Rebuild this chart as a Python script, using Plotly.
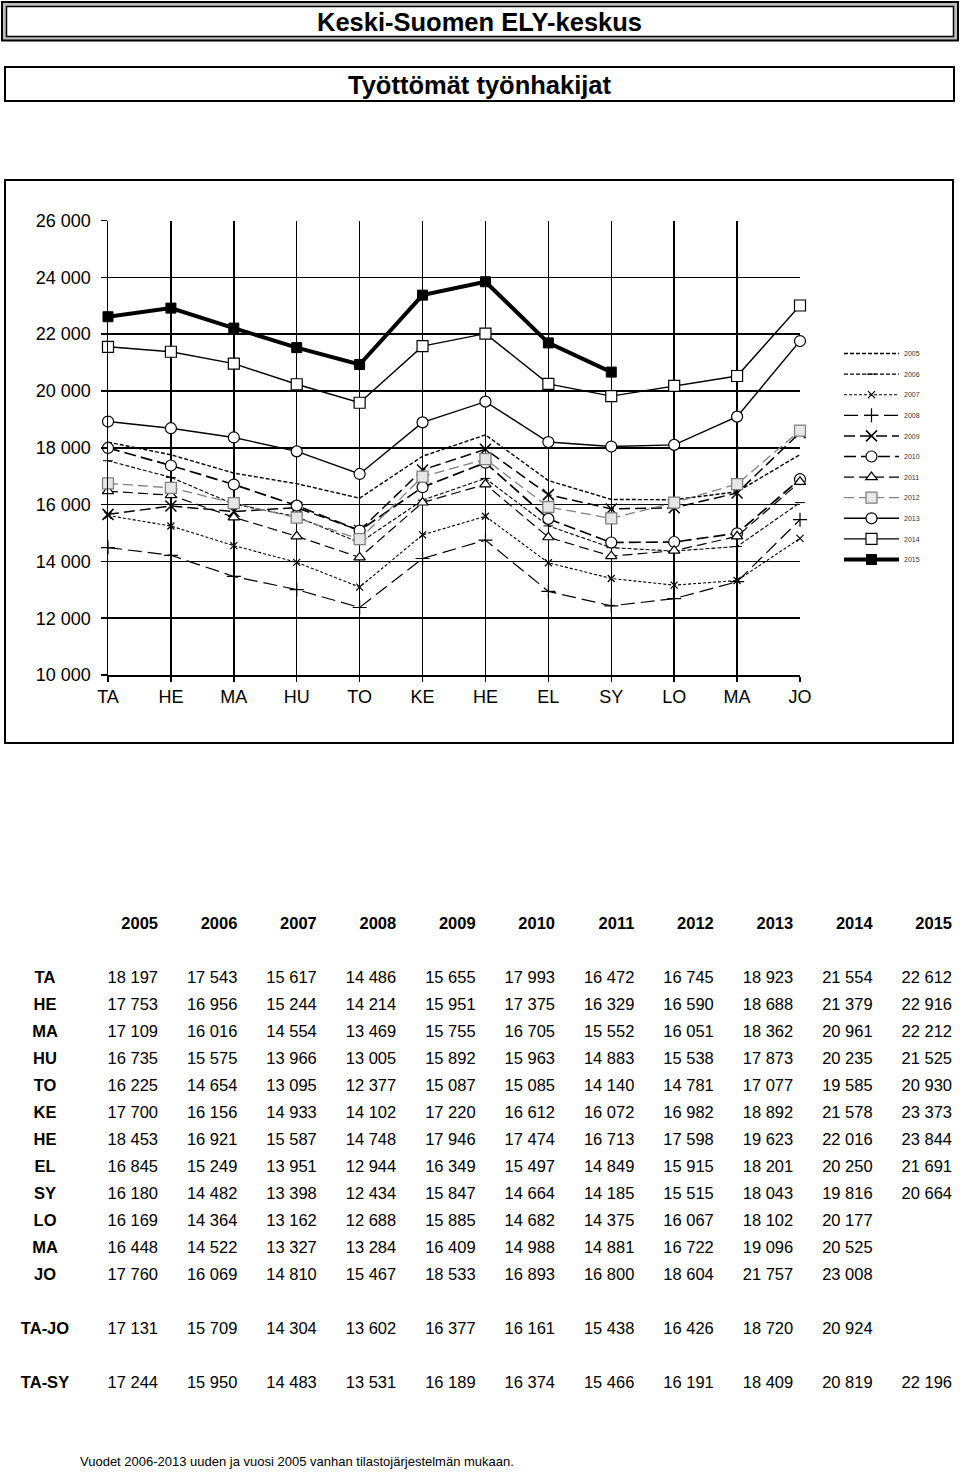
import plotly.graph_objects as go

W, H = 960, 1473

months = ["TA", "HE", "MA", "HU", "TO", "KE", "HE", "EL", "SY", "LO", "MA", "JO"]
years = [2005, 2006, 2007, 2008, 2009, 2010, 2011, 2012, 2013, 2014, 2015]

v2005 = [18197, 17753, 17109, 16735, 16225, 17700, 18453, 16845, 16180, 16169, 16448, 17760]
v2006 = [17543, 16956, 16016, 15575, 14654, 16156, 16921, 15249, 14482, 14364, 14522, 16069]
v2007 = [15617, 15244, 14554, 13966, 13095, 14933, 15587, 13951, 13398, 13162, 13327, 14810]
v2008 = [14486, 14214, 13469, 13005, 12377, 14102, 14748, 12944, 12434, 12688, 13284, 15467]
v2009 = [15655, 15951, 15755, 15892, 15087, 17220, 17946, 16349, 15847, 15885, 16409, 18533]
v2010 = [17993, 17375, 16705, 15963, 15085, 16612, 17474, 15497, 14664, 14682, 14988, 16893]
v2011 = [16472, 16329, 15552, 14883, 14140, 16072, 16713, 14849, 14185, 14375, 14881, 16800]
v2012 = [16745, 16590, 16051, 15538, 14781, 16982, 17598, 15915, 15515, 16067, 16722, 18604]
v2013 = [18923, 18688, 18362, 17873, 17077, 18892, 19623, 18201, 18043, 18102, 19096, 21757]
v2014 = [21554, 21379, 20961, 20235, 19585, 21578, 22016, 20250, 19816, 20177, 20525, 23008]
v2015 = [22612, 22916, 22212, 21525, 20930, 23373, 23844, 21691, 20664, None, None, None]

ta_jo = [17131, 15709, 14304, 13602, 16377, 16161, 15438, 16426, 18720, 20924, None]
ta_sy = [17244, 15950, 14483, 13531, 16189, 16374, 15466, 16191, 18409, 20819, 22196]

y_ticks = [10000, 12000, 14000, 16000, 18000, 20000, 22000, 24000, 26000]

series = [v2005, v2006, v2007, v2008, v2009, v2010, v2011, v2012, v2013, v2014, v2015]

FONT = "Liberation Sans, Arial, Helvetica, sans-serif"


def X(px):
    return px / W


def Y(py):
    return 1 - py / H


styles = {
    2005: dict(line=dict(color="black", width=1.4, dash="4px,2px"), mode="lines"),
    2006: dict(line=dict(color="black", width=1.1, dash="4px,2px"),
               marker=dict(symbol="line-ew-open", size=7, line=dict(color="black", width=1))),
    2007: dict(line=dict(color="black", width=1.1, dash="3px,2px"),
               marker=dict(symbol="x-thin-open", size=7, line=dict(color="black", width=1.2))),
    2008: dict(line=dict(color="black", width=1.2, dash="14px,6px"),
               marker=dict(symbol="cross-thin-open", size=10, line=dict(color="black", width=1.2))),
    2009: dict(line=dict(color="black", width=1.5, dash="11px,5px"),
               marker=dict(symbol="x-thin-open", size=11, line=dict(color="black", width=1.5))),
    2010: dict(line=dict(color="black", width=1.7, dash="12px,5px"),
               marker=dict(symbol="circle", size=11, color="white", line=dict(color="black", width=1.2))),
    2011: dict(line=dict(color="black", width=1.2, dash="10px,5px"),
               marker=dict(symbol="triangle-up", size=10, color="white", line=dict(color="black", width=1.2))),
    2012: dict(line=dict(color="#808080", width=1.3, dash="10px,5px"),
               marker=dict(symbol="square", size=11, color="#e6e6e6", line=dict(color="#808080", width=1.3))),
    2013: dict(line=dict(color="black", width=1.4),
               marker=dict(symbol="circle", size=11, color="white", line=dict(color="black", width=1.2))),
    2014: dict(line=dict(color="black", width=1.4),
               marker=dict(symbol="square", size=11, color="white", line=dict(color="black", width=1.2))),
    2015: dict(line=dict(color="black", width=4),
               marker=dict(symbol="square", size=10, color="black", line=dict(color="black", width=1))),
}

fig = go.Figure()

for yr, vals in zip(years, series):
    st = dict(styles[yr])
    mode = st.pop("mode", "lines+markers")
    fig.add_trace(go.Scatter(
        x=list(range(len(months))), y=vals, name=str(yr), mode=mode,
        legendgroup=str(yr), cliponaxis=False, connectgaps=False, **st))


NBSP = "\u00a0"


def fmt(v):
    return "" if v is None else f"{v:,}".replace(",", NBSP)


label_col = [""] + months + ["", "TA-JO", "", "TA-SY"]
cols = [label_col]
for j, vals in enumerate(series):
    cols.append([""] + [fmt(v) for v in vals] + ["", fmt(ta_jo[j]), "", fmt(ta_sy[j])])

fig.add_trace(go.Table(
    domain=dict(x=[0, 1], y=[Y(1402), Y(909)]),
    columnwidth=[90, 76] + [79.4] * 10,
    header=dict(values=[""] + [str(y) for y in years],
                align=["center"] + ["right"] * 11, height=27,
                font=dict(family=FONT, size=16.5, color="black", weight="bold"),
                fill=dict(color="white"), line=dict(color="white", width=1)),
    cells=dict(values=cols, align=["center"] + ["right"] * 11, height=27,
               font=dict(family=FONT, size=16.5, color="black",
                         weight=["bold"] + ["normal"] * 11),
               fill=dict(color="white"), line=dict(color="white", width=1)),
))

shapes = [
    dict(type="rect", xref="paper", yref="paper", x0=X(2), x1=X(958), y0=Y(2), y1=Y(40.5),
         line=dict(color="black", width=2), fillcolor="#bdbdbd", layer="below"),
    dict(type="rect", xref="paper", yref="paper", x0=X(6.5), x1=X(953.5), y0=Y(6.5), y1=Y(36.5),
         line=dict(color="black", width=1.5), fillcolor="white", layer="below"),
    dict(type="rect", xref="paper", yref="paper", x0=X(5), x1=X(954), y0=Y(67), y1=Y(101),
         line=dict(color="black", width=2), fillcolor="white", layer="below"),
    dict(type="rect", xref="paper", yref="paper", x0=X(5), x1=X(953), y0=Y(180), y1=Y(743),
         line=dict(color="black", width=2), fillcolor="rgba(0,0,0,0)", layer="below"),
]

annotations = [
    dict(text="<b>Keski-Suomen ELY-keskus</b>", x=X(479.5), y=Y(22), xref="paper", yref="paper",
         xanchor="center", yanchor="middle", showarrow=False,
         font=dict(family=FONT, size=25.5, color="black")),
    dict(text="<b>Työttömät työnhakijat</b>", x=X(479.5), y=Y(85), xref="paper", yref="paper",
         xanchor="center", yanchor="middle", showarrow=False,
         font=dict(family=FONT, size=25.5, color="black")),
    dict(text="Vuodet 2006-2013 uuden ja vuosi 2005 vanhan tilastojärjestelmän mukaan.",
         x=X(78), y=Y(1461), xref="paper", yref="paper", xanchor="left", yanchor="middle",
         showarrow=False, font=dict(family=FONT, size=13, color="black")),
]

fig.update_layout(
    width=W, height=H, margin=dict(l=0, r=0, t=0, b=0, pad=0, autoexpand=False),
    paper_bgcolor="white", plot_bgcolor="white",
    separators=". ",
    font=dict(family=FONT, color="black"),
    showlegend=True,
    legend=dict(x=X(839), y=Y(339), xanchor="left", yanchor="top",
                font=dict(family=FONT, size=7, color="#333333"),
                itemwidth=55, tracegroupgap=1.6, bgcolor="rgba(0,0,0,0)",
                traceorder="grouped"),
    xaxis=dict(domain=[X(108), X(800)], range=[0, len(months) - 1],
               tickmode="array", tickvals=list(range(len(months))), ticktext=months,
               showgrid=True, gridcolor="black", gridwidth=1.5,
               showline=True, linecolor="black", linewidth=1.5,
               ticks="outside", ticklen=5, tickcolor="black", tickwidth=1.5,
               tickfont=dict(family=FONT, size=18, color="black"),
               zeroline=False, fixedrange=True, automargin=False),
    yaxis=dict(domain=[Y(675), Y(220.5)], range=[y_ticks[0], y_ticks[-1]],
               tickmode="array", tickvals=y_ticks, tickformat=",d",
               showgrid=True, gridcolor="black", gridwidth=1.5,
               showline=True, linecolor="black", linewidth=1.5,
               ticks="outside", ticklen=6, tickcolor="black", tickwidth=1.5,
               ticklabelstandoff=6,
               tickfont=dict(family=FONT, size=18, color="black"),
               zeroline=False, fixedrange=True, automargin=False),
    shapes=shapes, annotations=annotations,
)

fig.write_html("out.html", config={"displayModeBar": False, "staticPlot": True},
               post_script="document.body.style.margin='0px';document.body.style.padding='0px';")
